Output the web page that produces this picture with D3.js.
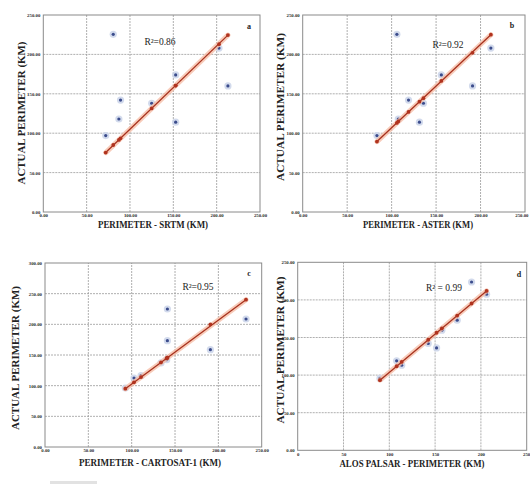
<!DOCTYPE html>
<html><head><meta charset="utf-8">
<script src="https://cdn.jsdelivr.net/npm/d3@7"></script>
<style>
html,body{margin:0;padding:0;background:#fff;}
svg{display:block;font-family:"Liberation Serif","Times New Roman",serif;}
</style></head>
<body>
<svg id="chart" width="530" height="486"></svg>
<script>
// Actual perimeter of the nine lakes (KM)
const actual = [97, 114, 118, 138, 142, 160, 174, 208, 225.5];

// Perimeter measured from each DEM (KM) and fitted values on the trend line
const srtmX      = [72, 152.7, 87.2, 125, 89.1, 213, 152.7, 202.7, 80.7];
const srtmFit    = [75.4, 160.5, 91.5, 131.5, 93.5, 224.5, 160.5, 213, 85];
const asterX     = [83.5, 131.3, 107.5, 135.8, 119, 191, 155.9, 211.6, 105.9];
const asterFit   = [89.4, 140, 115, 144.5, 127, 202, 166.3, 225, 113];
const cartoX     = [92.7, 102.7, 110.8, 133.8, 140.4, 190.8, 141.2, 231.9, 141.2];
const cartoActual= [96.2, 112.5, 116.3, 137, 142.4, 158.7, 173.4, 208.7, 225];
const cartoFit   = [95.1, 105.5, 114, 138, 144.8, 200, 145.6, 240.2, 145.6];
const alosX      = [89.8, 113.5, 108, 151.6, 142.5, 157.4, 174.1, 206.2, 189.8];
const alosActual = [95.6, 113.2, 119, 136.2, 142, 159.7, 173, 207.5, 223.8];
const alosFit    = [93.3, 117.5, 111.8, 156.3, 147, 162.2, 179.2, 211.9, 195.2];

const r2Labels = ["R\u00B2=0.86", "R\u00B2=0.92", "R\u00B2=0.95", "R\u00B2 = 0.99"];
const panelLetters = ["a", "b", "c", "d"];
const xTitles = ["PERIMETER - SRTM (KM)", "PERIMETER - ASTER (KM)", "PERIMETER - CARTOSAT-1 (KM)", "ALOS PALSAR - PERIMETER (KM)"];
const yTitle = "ACTUAL PERIMETER (KM)";
const xTicks = [0, 50, 100, 150, 200, 250];
const yTicksA = [0, 50, 100, 150, 200, 250];
const yTicksC = [0, 50, 100, 150, 200, 250, 300];

const panels = [
  {x: srtmX, y: actual, fit: srtmFit, yMax: 250, yTicks: yTicksA, xFmt: ".2f",
   xr: [43.3, 260], yr: [212, 15], r2: [160, 45], let: [249, 29], xt: [153, 228, 110], yt: [22, 113, 143]},
  {x: asterX, y: actual, fit: asterFit, yMax: 250, yTicks: yTicksA, xFmt: ".2f",
   xr: [302.7, 525], yr: [212, 15], r2: [448, 48], let: [512, 28], xt: [418, 228, 110], yt: [281, 107, 148]},
  {x: cartoX, y: cartoActual, fit: cartoFit, yMax: 300, yTicks: yTicksC, xFmt: ".2f",
   xr: [45, 261.7], yr: [447, 263], r2: [198, 290], let: [249, 276], xt: [150, 466, 142], yt: [16, 358, 144]},
  {x: alosX, y: alosActual, fit: alosFit, yMax: 250, yTicks: yTicksA, xFmt: "d",
   xr: [297.7, 526.7], yr: [450.3, 262.3], r2: [444, 291], let: [519, 277], xt: [412, 467, 145], yt: [281, 350, 147]}
];

const svg = d3.select("#chart");

panels.forEach((p, i) => {
  const g = svg.append("g");
  const x = d3.scaleLinear().domain([0, 250]).range(p.xr);
  const y = d3.scaleLinear().domain([0, p.yMax]).range(p.yr);

  // gridlines
  g.append("g").selectAll("line.vx").data(xTicks.slice(1, -1)).join("line")
    .attr("x1", d => x(d)).attr("x2", d => x(d))
    .attr("y1", p.yr[0]).attr("y2", p.yr[1])
    .attr("stroke", "#9a9a9a").attr("stroke-width", 0.8).attr("stroke-dasharray", "2,1");
  g.append("g").selectAll("line.hy").data(p.yTicks.slice(1, -1)).join("line")
    .attr("y1", d => y(d)).attr("y2", d => y(d))
    .attr("x1", p.xr[0]).attr("x2", p.xr[1])
    .attr("stroke", "#9a9a9a").attr("stroke-width", 0.8).attr("stroke-dasharray", "2,1");

  // frame
  g.append("rect").attr("x", p.xr[0]).attr("y", p.yr[1])
    .attr("width", p.xr[1] - p.xr[0]).attr("height", p.yr[0] - p.yr[1])
    .attr("fill", "none").attr("stroke", "#8a8a8a").attr("stroke-width", 1);

  // axes tick labels
  const xAxis = d3.axisBottom(x).tickValues(xTicks).tickSize(0).tickPadding(2)
    .tickFormat(d3.format(p.xFmt));
  const xa = g.append("g").attr("transform", `translate(0,${p.yr[0]})`).call(xAxis);
  const yAxis = d3.axisLeft(y).tickValues(p.yTicks).tickSize(0).tickPadding(3)
    .tickFormat(d3.format(".2f"));
  const ya = g.append("g").attr("transform", `translate(${p.xr[0]},0)`).call(yAxis);
  [xa, ya].forEach(a => {
    a.select(".domain").remove();
    a.selectAll("text").attr("font-size", 4.8).attr("font-weight", "bold")
      .attr("fill", "#2a2a2a").attr("font-family", "Liberation Serif, serif");
  });
  // keep the last x tick label inside the window on right-hand panels
  if (p.xr[1] > 520) {
    xa.selectAll(".tick").filter(d => d === 250).select("text").attr("text-anchor", "end").attr("dx", "3");
  }

  // points
  const pts = p.x.map((v, k) => ({x: v, y: p.y[k], f: p.fit[k]}));
  const linePts = pts.slice().sort((a, b) => a.x - b.x);
  const lo = linePts[0], hi = linePts[linePts.length - 1];

  // blue actual markers
  g.append("g").selectAll("circle").data(pts).join("circle")
    .attr("cx", d => x(d.x)).attr("cy", d => y(d.y)).attr("r", 3.6)
    .attr("fill", "#cdd6ea").attr("opacity", 0.9);
  g.append("g").selectAll("circle").data(pts).join("circle")
    .attr("cx", d => x(d.x)).attr("cy", d => y(d.y)).attr("r", 1.6)
    .attr("fill", "#3b4c8c");

  // trend line with halo
  g.append("line").attr("x1", x(lo.x)).attr("y1", y(lo.f)).attr("x2", x(hi.x)).attr("y2", y(hi.f))
    .attr("stroke", "#f6bba4").attr("stroke-width", 5).attr("opacity", 0.75).attr("stroke-linecap", "round");
  g.append("line").attr("x1", x(lo.x)).attr("y1", y(lo.f)).attr("x2", x(hi.x)).attr("y2", y(hi.f))
    .attr("stroke", "#a8321e").attr("stroke-width", 1.3);

  // red fitted markers
  g.append("g").selectAll("circle").data(pts).join("circle")
    .attr("cx", d => x(d.x)).attr("cy", d => y(d.f)).attr("r", 1.9)
    .attr("fill", "#b0331f");

  // R2 label
  g.append("text").attr("x", p.r2[0]).attr("y", p.r2[1]).attr("text-anchor", "middle")
    .attr("font-size", 9.5).attr("fill", "#222").text(r2Labels[i]);
  // panel letter
  g.append("text").attr("x", p.let[0]).attr("y", p.let[1]).attr("text-anchor", "middle")
    .attr("font-size", 8).attr("font-weight", "bold").attr("fill", "#222").text(panelLetters[i]);

  // axis titles
  g.append("text").attr("x", p.xt[0]).attr("y", p.xt[1]).attr("text-anchor", "middle")
    .attr("font-size", 10).attr("font-weight", "bold").attr("fill", "#222")
    .attr("textLength", p.xt[2]).attr("lengthAdjust", "spacingAndGlyphs").text(xTitles[i]);
  g.append("text").attr("transform", `translate(${p.yt[0]},${p.yt[1]}) rotate(-90)`)
    .attr("text-anchor", "middle").attr("dy", "0.35em")
    .attr("font-size", 9.5).attr("font-weight", "bold").attr("fill", "#222")
    .attr("textLength", p.yt[2]).attr("lengthAdjust", "spacingAndGlyphs").text(yTitle);
});

// faint scan artifact at bottom left
svg.append("rect").attr("x", 50).attr("y", 481).attr("width", 47).attr("height", 3)
  .attr("fill", "#e2e2e2");
</script>
</body></html>
